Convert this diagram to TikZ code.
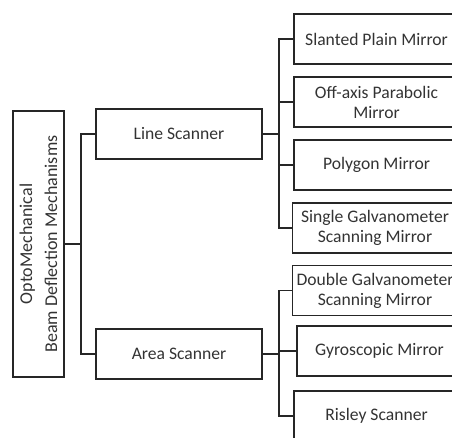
\documentclass[tikz,border=0pt]{standalone}
\usepackage{fontspec}
\setmainfont{Carlito}
\usepackage{tikz}
\usetikzlibrary{positioning}

\begin{document}
\begin{tikzpicture}[
  x=1pt,y=-1pt,
  every node/.style={font=\fontsize{17.6}{20}\selectfont,text=black!80},
  box/.style={draw=black!85,line width=1.6pt,minimum width=165pt,minimum height=50pt,align=center,inner sep=0pt},
  rootbox/.style={draw=black!85,line width=1.6pt,minimum width=266pt,minimum height=51pt,align=center,rotate=90,inner sep=0pt,font=\fontsize{18}{25}\selectfont},
  link/.style={draw=black!85,line width=1.6pt}
]
\useasboundingbox (0,0) rectangle (452,437);
\clip (0,0) rectangle (452,437);
% root
\node[rootbox] (root) at (38.5,244) {OptoMechanical\\Beam Deflection Mechanisms};
% second level
\node[box,minimum width=166pt] (line) at (179,134) {Line Scanner};
\node[box,minimum width=166pt] (area) at (179,354) {Area Scanner};
% third level
\node[box] (slanted) at (376.5,39) {Slanted Plain Mirror};
\node[box] (offaxis) at (376.5,102) {Off-axis Parabolic\\Mirror};
\node[box] (polygon) at (376.5,165) {Polygon Mirror};
\node[box] (single) at (375,228) {Single Galvanometer\\Scanning Mirror};
\node[box] (double) at (375,290.5) {Double Galvanometer\\Scanning Mirror};
\node[box] (gyro) at (379.5,351) {Gyroscopic Mirror};
\node[box] (risley) at (376.5,416) {Risley Scanner};
% connectors
\path[link] (root.south) -- ++(16,0) coordinate (rj);
\path[link] (rj) |- (line.west);
\path[link] (rj) |- (area.west);
\path[link] (line.east) -- ++(16,0) coordinate (lj);
\foreach \n in {slanted,offaxis,polygon,single}
  \path[link] (lj) |- (\n.west);
\path[link] (area.east) -- ++(16,0) coordinate (aj);
\foreach \n in {double,gyro,risley}
  \path[link] (aj) |- (\n.west);
\end{tikzpicture}
\end{document}
